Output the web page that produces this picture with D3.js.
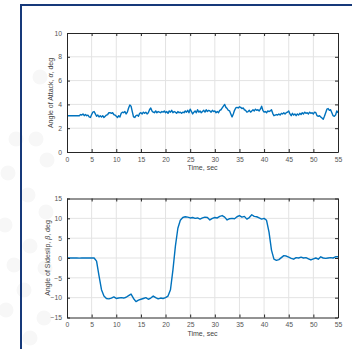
<!DOCTYPE html>
<html>
<head>
<meta charset="utf-8">
<script src="https://cdn.jsdelivr.net/npm/d3@7"></script>
<style>
  body { margin: 0; background: #fff; }
  svg { display: block; font-family: "Liberation Sans", Arial, sans-serif; }
</style>
</head>
<body>
<div id="chart"></div>
<script>
// sample step (s) of each recorded series
const alphaStep = 0.25;
const betaStep = 0.5;

// angle of attack, deg (one row per second)
const alphaValues = [
  3.05,3.05,3.05,3.05, 3.05,3.05,3.05,3.05, 3.05,3.05,3.05,3.15, 3.1,3.2,3.05,3.15,
  3.05,3.1,2.95,2.9, 3.15,3.35,3.4,3.2, 3.0,3.1,2.95,3.05, 2.95,3.05,2.9,3.0,
  3.1,3.15,3.3,3.3, 3.25,3.3,3.15,3.1, 3.0,2.9,3.05,2.95, 3.25,3.35,3.3,3.4,
  3.2,3.35,3.7,3.95, 3.85,3.4,2.95,2.9, 3.05,3.1,3.0,3.25, 3.3,3.2,3.35,3.25,
  3.35,3.2,3.3,3.55, 3.7,3.45,3.35,3.3, 3.45,3.3,3.4,3.35, 3.3,3.4,3.35,3.45,
  3.3,3.4,3.25,3.45, 3.35,3.5,3.3,3.4, 3.35,3.25,3.4,3.3, 3.35,3.25,3.35,3.3,
  3.45,3.35,3.5,3.3, 3.6,3.4,3.2,3.35, 3.45,3.3,3.55,3.35, 3.45,3.3,3.4,3.5,
  3.35,3.55,3.4,3.5, 3.45,3.35,3.5,3.4, 3.45,3.3,3.4,3.3, 3.5,3.55,3.7,3.85,
  4.0,3.75,3.65,3.5, 3.45,3.2,2.95,3.2, 3.5,3.7,3.75,3.7, 3.8,3.75,3.65,3.7,
  3.55,3.5,3.35,3.4, 3.5,3.35,3.45,3.55, 3.45,3.6,3.5,3.55, 3.45,3.6,3.85,3.5,
  3.35,3.4,3.3,3.45, 3.4,3.45,3.55,3.25, 3.05,3.1,3.15,3.1, 3.2,3.1,3.25,3.2,
  3.3,3.2,3.3,3.35, 3.45,3.2,3.05,3.25, 3.1,3.2,3.05,3.2, 3.1,3.25,3.15,3.3,
  3.2,3.35,3.25,3.3, 3.2,3.35,3.25,3.3, 3.2,3.35,3.3,3.05, 3.0,3.05,2.95,2.85,
  2.75,3.0,3.3,3.6, 3.65,3.5,3.55,3.3, 3.05,3.0,3.1,3.45, 3.3
];

// angle of sideslip, deg (one row per 5 s)
const betaValues = [
  0,0,0.02,0,0,-0.03,0,0.02,0,0,
  0,0,-0.8,-4.5,-8.0,-9.6,-10.2,-10.3,-10.1,-9.8,
  -10.2,-10.1,-10.0,-10.1,-9.9,-9.5,-9.1,-10.2,-11.0,-10.6,
  -10.4,-10.2,-10.0,-10.4,-10.1,-9.6,-10.0,-10.3,-10.1,-10.2,
  -10.0,-9.6,-8.0,-3.0,3.0,7.5,9.5,10.2,10.4,10.3,
  10.1,10.2,10.0,10.1,9.8,10.1,10.3,10.2,9.6,10.0,
  10.2,10.1,10.5,10.7,10.3,9.6,9.9,10.0,9.9,10.4,
  10.7,10.3,10.5,9.8,10.2,10.9,10.5,10.4,10.1,9.8,
  10.0,9.5,6.5,2.0,-0.3,-0.6,-0.4,0.1,0.6,0.5,
  0.2,-0.1,-0.3,0.1,0.0,0.2,0.0,0.1,-0.2,-0.5,
  -0.2,0.0,-0.3,0.3,0.0,-0.1,0.0,0.1,0.0,0.3,
  0.3
];

const timeTicks = d3.range(0, 56, 5);
const alphaTicks = [0, 2, 4, 6, 8, 10];
const betaTicks = [-15, -10, -5, 0, 5, 10, 15];

// faint background dots on the left side of the page
const bgDots = [
  [40, 77], [16, 139], [36, 139], [47, 160], [8, 173], [28, 195], [46, 212],
  [5, 225], [30, 246], [14, 265], [45, 268], [24, 290], [6, 310], [44, 318], [30, 338]
];

const W = 352, H = 349;
const svg = d3.select("#chart").append("svg")
  .attr("width", W)
  .attr("height", H);

svg.selectAll("circle.bg")
  .data(bgDots)
  .join("circle")
  .attr("class", "bg")
  .attr("cx", d => d[0])
  .attr("cy", d => d[1])
  .attr("r", 7.5)
  .attr("fill", "#f7f7f7");

// page frame (top and left edges)
svg.append("path")
  .attr("d", "M21,349V5H352")
  .attr("fill", "none")
  .attr("stroke", "#16397a")
  .attr("stroke-width", 2);

const x0 = 67, x1 = 338;

function panel(top, bottom, domain, yTicks, values, step, yLabel, labelX, labelY, timeLabelY) {
  const x = d3.scaleLinear().domain([0, 55]).range([x0, x1]);
  const y = d3.scaleLinear().domain(domain).range([bottom, top]);
  const g = svg.append("g");

  g.append("rect")
    .attr("x", x0).attr("y", top)
    .attr("width", x1 - x0).attr("height", bottom - top)
    .attr("fill", "#fff");

  // grid
  g.selectAll("line.gx")
    .data(timeTicks.slice(1, -1))
    .join("line")
    .attr("x1", d => x(d)).attr("x2", d => x(d))
    .attr("y1", top).attr("y2", bottom)
    .attr("stroke", "#e3e3e3").attr("stroke-width", 1);
  g.selectAll("line.gy")
    .data(yTicks.slice(1, -1))
    .join("line")
    .attr("y1", d => y(d)).attr("y2", d => y(d))
    .attr("x1", x0).attr("x2", x1)
    .attr("stroke", "#e3e3e3").attr("stroke-width", 1);

  // line
  const line = d3.line()
    .x((d, i) => x(i * step))
    .y(d => y(d));
  g.append("path")
    .datum(values)
    .attr("d", line)
    .attr("fill", "none")
    .attr("stroke", "#0072bd")
    .attr("stroke-width", 1.4)
    .attr("stroke-linejoin", "round");

  // axes with inward ticks
  const tick = 3;
  const bx = d3.axisBottom(x).tickValues(timeTicks).tickSizeInner(-tick).tickSizeOuter(0).tickPadding(5);
  const tx = d3.axisTop(x).tickValues(timeTicks).tickSizeInner(-tick).tickSizeOuter(0).tickFormat("");
  const ly = d3.axisLeft(y).tickValues(yTicks).tickSizeInner(-tick).tickSizeOuter(0).tickPadding(5);
  const ry = d3.axisRight(y).tickValues(yTicks).tickSizeInner(-tick).tickSizeOuter(0).tickFormat("");

  [[bx, `translate(0,${bottom})`], [tx, `translate(0,${top})`],
   [ly, `translate(${x0},0)`], [ry, `translate(${x1},0)`]].forEach(([ax, tr]) => {
    const a = g.append("g").attr("transform", tr).call(ax);
    a.select(".domain").attr("stroke", "#262626");
    a.selectAll(".tick line").attr("stroke", "#262626");
    a.selectAll("text").attr("fill", "#555").attr("font-size", 6.8)
      .attr("font-family", "Liberation Sans, Arial, sans-serif");
  });

  g.append("text")
    .attr("x", (x0 + x1) / 2).attr("y", timeLabelY)
    .attr("text-anchor", "middle")
    .attr("font-size", 7).attr("fill", "#444")
    .text("Time, sec");

  const yl = g.append("text")
    .attr("transform", `translate(${labelX},${labelY}) rotate(-90)`)
    .attr("text-anchor", "middle")
    .attr("font-size", 7).attr("fill", "#444");
  yl.append("tspan").text(yLabel[0]);
  yl.append("tspan").attr("font-style", "italic").text(yLabel[1]);
  yl.append("tspan").text(yLabel[2]);
}

panel(33, 152, [0, 10], alphaTicks, alphaValues, alphaStep,
  ["Angle of Attack, ", "α", ", deg"], 53, 93, 170);
panel(198.5, 317.5, [-15, 15], betaTicks, betaValues, betaStep,
  ["Angle of Sideslip, ", "β", ", deg"], 50, 258, 336);
</script>
</body>
</html>
